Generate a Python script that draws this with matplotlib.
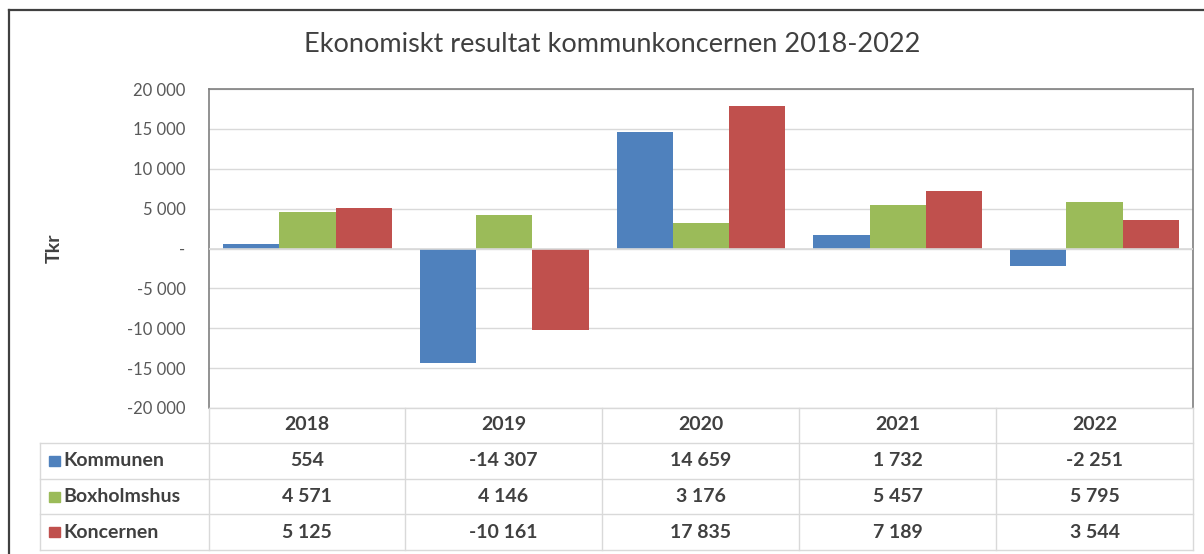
import matplotlib.pyplot as plt
from matplotlib.lines import Line2D
from matplotlib.patches import Rectangle
import numpy as np

plt.rcParams['font.family'] = ['Lato', 'DejaVu Sans']

years = ['2018', '2019', '2020', '2021', '2022']
series = ['Kommunen', 'Boxholmshus', 'Koncernen']
kommunen = [554, -14307, 14659, 1732, -2251]
boxholmshus = [4571, 4146, 3176, 5457, 5795]
koncernen = [5125, -10161, 17835, 7189, 3544]
colors = ['#4F81BD', '#9BBB59', '#C0504D']
yticks = [-20000, -15000, -10000, -5000, 0, 5000, 10000, 15000, 20000]

W, H = 1204, 554
fig = plt.figure(figsize=(W / 100, H / 100), dpi=100)

def fx(px):
    return px / W

def fy(py):
    return 1 - py / H

# outer chart border (top and left visible)
fig.add_artist(Line2D([fx(9), fx(9)], [fy(10), fy(560)], color='#404040', lw=1.6))
fig.add_artist(Line2D([fx(9), fx(1210)], [fy(10), fy(10)], color='#404040', lw=1.6))

left, right, top, bottom = 209, 1193, 89, 408
ax = fig.add_axes([fx(left), fy(bottom), fx(right - left), fy(top) - fy(bottom)])

fmt = lambda v: f'{v:,}'.replace(',', ' ')

x = np.arange(len(years))
bw = 0.286
data = [kommunen, boxholmshus, koncernen]
for i, (vals, c) in enumerate(zip(data, colors)):
    ax.bar(x + (i - 1) * bw, vals, width=bw, color=c, zorder=3)

ax.set_xlim(-0.5, len(years) - 0.5)
ax.set_ylim(-20000, 20000)
ax.set_yticks(yticks)
ax.set_yticklabels(['-' if v == 0 else fmt(v) for v in yticks], color='#595959', fontsize=12)
ax.tick_params(axis='y', length=0, pad=17)
ax.set_xticks([])
ax.grid(axis='y', color='#D9D9D9', lw=1, zorder=0)
ax.axhline(0, color='#D9D9D9', lw=1.2, zorder=4)
for s in ['left', 'top', 'right']:
    ax.spines[s].set_color('#7F7F7F')
    ax.spines[s].set_linewidth(1.2)
ax.spines['bottom'].set_visible(False)

ax.set_ylabel('Tkr', fontsize=14, fontweight='bold', color='#404040', labelpad=46)

fig.text(fx(612), fy(45), 'Ekonomiskt resultat kommunkoncernen 2018-2022',
         ha='center', va='center', fontsize=19.5, color='#404040')

# data table
grid_c = '#D9D9D9'
row_lines = [408, 443, 479, 514, 550]
col_lines = [209, 405, 602, 799, 996, 1193]
fig.add_artist(Line2D([fx(left), fx(right)], [fy(408), fy(408)], color=grid_c, lw=1))
for r in row_lines[1:]:
    fig.add_artist(Line2D([fx(40), fx(right)], [fy(r), fy(r)], color=grid_c, lw=1))
for c in col_lines:
    fig.add_artist(Line2D([fx(c), fx(c)], [fy(408), fy(550)], color=grid_c, lw=1))
fig.add_artist(Line2D([fx(40), fx(40)], [fy(443), fy(550)], color=grid_c, lw=1))

tc = '#404040'
fs = 14
for j, yr in enumerate(years):
    cx = (col_lines[j] + col_lines[j + 1]) / 2
    fig.text(fx(cx), fy(425), yr, ha='center', va='center', fontsize=fs, fontweight='bold', color=tc)

row_centers = [461, 497, 532]
for i, (name, vals, c) in enumerate(zip(series, data, colors)):
    ry = row_centers[i]
    fig.add_artist(Rectangle((fx(49), fy(ry + 5)), fx(11), fy(ry - 5) - fy(ry + 5), color=c))
    fig.text(fx(63), fy(ry), name, ha='left', va='center', fontsize=fs, fontweight='bold', color=tc)
    for j, v in enumerate(vals):
        cx = (col_lines[j] + col_lines[j + 1]) / 2
        fig.text(fx(cx), fy(ry), fmt(v), ha='center', va='center', fontsize=fs, fontweight='bold', color=tc)

fig.savefig('out.png', dpi=100)
